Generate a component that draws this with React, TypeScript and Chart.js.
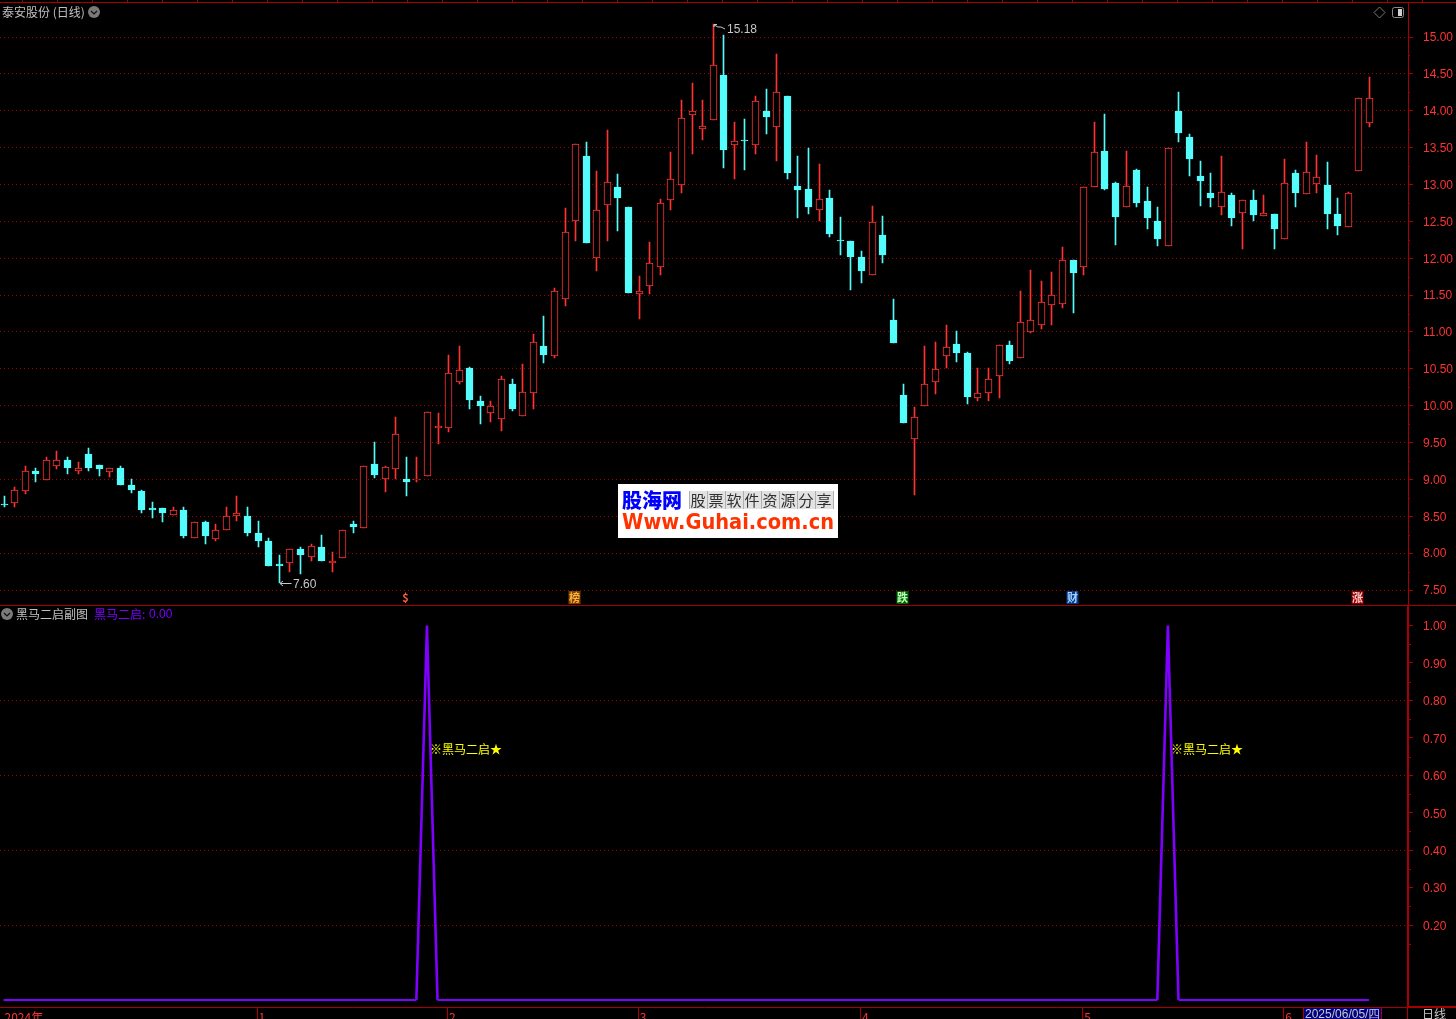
import React, { useEffect, useRef } from "react";
import { Chart, registerables } from "chart.js";

Chart.register(...registerables);

const opens = [
  8.66,8.68,8.84,9.11,8.99,9.18,9.27,9.12,9.35,9.19,9.10,9.15,8.92,8.84,8.61,8.61,8.52,8.59,8.21,8.42,
  8.19,8.31,8.50,8.51,8.28,8.17,7.85,7.87,8.05,7.95,8.09,7.86,7.94,8.39,8.34,9.21,9.00,9.14,9.00,9.00,
  9.05,9.70,9.70,10.32,10.51,10.06,9.90,9.82,10.29,9.86,10.17,10.81,10.68,11.45,12.50,13.38,12.00,12.72,12.96,12.69,
  11.51,11.63,11.88,12.79,12.99,13.94,13.75,13.87,14.48,13.54,13.61,13.54,14.00,13.78,14.20,12.98,12.94,12.66,12.81,12.25,
  12.23,12.01,11.77,12.31,11.16,10.14,9.55,10.00,10.32,10.68,10.83,10.71,10.11,10.17,10.40,10.82,10.64,11.00,11.10,11.36,
  11.38,11.98,11.88,12.96,13.45,13.02,12.69,13.19,12.77,12.50,12.17,13.99,13.64,13.11,12.88,12.69,12.86,12.61,12.79,12.57,
  12.60,12.26,13.15,12.87,13.00,12.99,12.60,12.42,13.18,13.84,
];
const closes = [
  8.65,8.85,9.11,9.08,9.27,9.27,9.15,9.15,9.15,9.14,9.15,8.93,8.86,8.58,8.58,8.54,8.59,8.23,8.42,8.23,
  8.32,8.51,8.54,8.27,8.16,7.83,7.83,8.05,7.97,8.10,7.90,7.90,8.32,8.35,9.18,9.06,9.17,9.61,8.96,9.00,
  9.91,9.72,10.45,10.48,10.08,9.99,10.00,10.36,9.95,10.18,10.87,10.69,11.55,12.35,13.55,12.20,12.66,13.03,12.81,11.53,
  11.56,11.94,12.75,13.07,13.90,14.00,13.79,14.62,13.47,13.59,13.59,14.13,13.91,14.25,13.15,12.93,12.70,12.80,12.33,12.23,
  12.01,11.82,12.49,12.05,10.85,9.76,9.84,10.30,10.50,10.80,10.71,10.12,10.17,10.36,10.82,10.60,11.14,11.16,11.40,11.50,
  11.97,11.80,12.97,13.44,12.94,12.56,12.98,12.75,12.55,12.26,13.50,13.70,13.34,13.05,12.82,12.90,12.55,12.79,12.58,12.61,
  12.40,13.02,12.88,13.17,13.10,12.60,12.44,12.88,14.17,14.17,
];
const highs = [
  8.77,8.90,9.18,9.15,9.30,9.38,9.31,9.23,9.42,9.20,9.15,9.18,9.00,8.86,8.70,8.61,8.63,8.63,8.42,8.43,
  8.39,8.63,8.78,8.62,8.43,8.21,7.98,8.05,8.09,8.13,8.24,8.01,8.32,8.43,9.18,9.51,9.18,9.84,9.30,9.30,
  9.91,9.90,10.69,10.81,10.52,10.13,10.06,10.40,10.36,10.56,10.97,11.21,11.59,12.68,13.55,13.57,13.18,13.74,13.14,12.69,
  11.76,12.22,12.80,13.44,14.14,14.38,14.14,15.18,15.03,13.85,13.89,14.20,14.29,14.77,14.20,13.38,13.49,13.28,12.92,12.56,
  12.24,12.10,12.71,12.57,11.45,10.29,9.98,10.81,10.86,11.09,11.01,10.73,10.51,10.51,10.82,10.88,11.55,11.84,11.69,11.81,
  12.15,11.98,12.97,13.85,13.95,13.04,13.45,13.21,12.97,12.70,13.50,14.25,13.68,13.32,13.16,13.39,12.89,12.79,12.92,12.86,
  12.60,13.34,13.19,13.57,13.40,13.30,12.81,12.90,14.17,14.46,
];
const lows = [
  8.63,8.63,8.80,8.96,8.99,9.14,9.07,9.08,9.11,9.05,9.03,8.92,8.81,8.54,8.48,8.42,8.52,8.20,8.21,8.13,
  8.16,8.31,8.44,8.23,8.08,7.82,7.60,7.75,7.72,7.89,7.90,7.74,7.94,8.28,8.34,9.02,8.83,9.00,8.77,8.96,
  9.05,9.48,9.64,10.29,9.95,9.75,9.78,9.66,9.93,9.86,9.95,10.58,10.64,11.35,12.23,12.20,11.82,12.23,12.37,11.53,
  11.17,11.51,11.77,12.65,12.88,13.42,13.61,13.87,13.22,13.07,13.19,13.42,13.68,13.32,13.07,12.54,12.60,12.50,12.29,12.05,
  11.57,11.66,11.77,11.93,10.85,9.76,8.79,10.00,10.16,10.51,10.59,10.02,10.06,10.06,10.10,10.56,10.64,10.98,11.04,11.09,
  11.32,11.26,11.77,12.96,12.93,12.18,12.69,12.70,12.39,12.16,12.17,13.57,13.11,12.71,12.70,12.59,12.44,12.12,12.50,12.57,
  12.13,12.26,12.69,12.87,12.89,12.40,12.31,12.42,13.18,13.78,
];
const signal = [
  0,0,0,0,0,0,0,0,0,0,0,0,0,0,0,0,0,0,0,0,
  0,0,0,0,0,0,0,0,0,0,0,0,0,0,0,0,0,0,0,0,
  1,0,0,0,0,0,0,0,0,0,0,0,0,0,0,0,0,0,0,0,
  0,0,0,0,0,0,0,0,0,0,0,0,0,0,0,0,0,0,0,0,
  0,0,0,0,0,0,0,0,0,0,0,0,0,0,0,0,0,0,0,0,
  0,0,0,0,0,0,0,0,0,0,1,0,0,0,0,0,0,0,0,0,
  0,0,0,0,0,0,0,0,0,0,
];
const priceTicks = [7.5,8,8.5,9,9.5,10,10.5,11,11.5,12,12.5,13,13.5,14,14.5,15];
const signalTicks = [0.2,0.3,0.4,0.5,0.6,0.7,0.8,0.9,1.0];
const signalGrid = [0.2,0.4,0.6,0.8];
const monthIndex = [0,24,42,60,81,102,121];
const monthLabels = ["2024年","1","2","3","4","5","6"];
const flagIndex = [38,54,85,101,128];
const flagTexts = ["$","榜","跌","财","涨"];
const highIndex = 67;
const lowIndex = 26;
const highValue = 15.18;
const lowValue = 7.6;
const signalText = "※黑马二启★";
const signalTextLevel = 0.67;
const stockTitle = "泰安股份 (日线)";
const subTitle = "黑马二启副图";
const subLegend = "黑马二启:";
const subValue = "0.00";
const dateText = "2025/06/05/四";
const periodText = "日线";

const RED = "#FF3232";
const CYAN = "#54FCFC";
const DARK = "#A80000";
const GRID = "#A00000";
const PURPLE = "#7F00FF";
const CJK = '"Noto Sans CJK SC", sans-serif';
const LATIN = '"Liberation Sans", sans-serif';
const STEP = 10.585;
const FIRST = 3.55;
const flagFill = ["#000000", "#7A4300", "#006400", "#003C8C", "#8C0000"];
const flagInk = ["#FF5A32", "#FFB040", "#B8FFB8", "#A8D0FF", "#FFC8C8"];

const isUp = (i: number) => closes[i] >= opens[i];

const zeroPadding = (s: any) => {
  s.paddingTop = 0;
  s.paddingBottom = 0;
  s.paddingLeft = 0;
  s.paddingRight = 0;
};

const chevronIcon = (ctx: CanvasRenderingContext2D, cx: number, cy: number) => {
  ctx.fillStyle = "#7A7A7A";
  ctx.beginPath();
  ctx.arc(cx, cy, 6, 0, Math.PI * 2);
  ctx.fill();
  ctx.strokeStyle = "#101010";
  ctx.lineWidth = 1.2;
  ctx.beginPath();
  ctx.moveTo(cx - 3, cy - 1);
  ctx.lineTo(cx, cy + 2);
  ctx.lineTo(cx + 3, cy - 1);
  ctx.stroke();
};

const snapPlugin = {
  id: "snap",
  beforeDatasetsDraw(chart: any) {
    chart.data.datasets.forEach((ds: any, idx: number) => {
      if (ds.type !== "bar") return;
      chart.getDatasetMeta(idx).data.forEach((el: any) => {
        el.x = Math.round(el.x) + 0.5;
        el.y = Math.round(el.y);
        el.base = Math.round(el.base);
        if (el.base - el.y < 1) el.base = el.y + 1;
      });
    });
  },
};

const decorPlugin = {
  id: "decor",
  afterDraw(chart: any) {
    const { ctx, scales } = chart;
    const xs = scales.x;
    const ys = scales.y;
    const y2 = scales.y2;
    const px = (i: number) => Math.round(xs.getPixelForValue(i));
    ctx.save();
    ctx.textBaseline = "middle";
    ctx.textAlign = "left";

    // frame
    ctx.fillStyle = DARK;
    ctx.fillRect(0, 2, 1456, 1);
    for (let t = 22; t < 1456; t += 35) ctx.fillRect(t, 0, 1, 2);
    ctx.fillRect(0, 605, 1456, 1);
    ctx.fillRect(1407, 1006, 49, 2);
    ctx.fillRect(1407, 1007, 1, 12);
    monthIndex.slice(1).forEach((m) => ctx.fillRect(px(m) - 1, 1007, 1, 12));

    // minor ticks on the price axis
    priceTicks.forEach((v) => {
      const yy = Math.round(ys.getPixelForValue(v + 0.25));
      if (v < 15) ctx.fillRect(1408, yy, 2, 1);
    });
    signalTicks.forEach((v) => {
      const yy = Math.round(y2.getPixelForValue(v - 0.05));
      ctx.fillRect(1409, yy, 2, 1);
    });

    // titles
    ctx.font = `12px ${CJK}`;
    ctx.fillStyle = "#C0C0C0";
    ctx.fillText(stockTitle, 2, 12);
    chevronIcon(ctx, 94, 12);
    chevronIcon(ctx, 7, 614);
    ctx.fillStyle = "#C0C0C0";
    ctx.fillText(subTitle, 16, 614);
    ctx.fillStyle = PURPLE;
    ctx.fillText(subLegend, 94, 614);
    ctx.font = `12px ${LATIN}`;
    ctx.fillText(subValue, 149, 615);

    // icons top right
    ctx.strokeStyle = "#7A7A7A";
    ctx.lineWidth = 1;
    ctx.beginPath();
    ctx.moveTo(1379.5, 7);
    ctx.lineTo(1385, 12.5);
    ctx.lineTo(1379.5, 18);
    ctx.lineTo(1374, 12.5);
    ctx.closePath();
    ctx.stroke();
    ctx.strokeStyle = "#8A8A8A";
    ctx.beginPath();
    ctx.roundRect(1392.5, 7.5, 11, 10, 2);
    ctx.stroke();
    ctx.fillStyle = "#D0D0D0";
    ctx.fillRect(1398, 9, 4, 7);

    // extreme markers
    ctx.strokeStyle = "#C8C8C8";
    ctx.fillStyle = "#C8C8C8";
    ctx.font = `12px ${LATIN}`;
    const lx = px(lowIndex);
    const ly = Math.round(ys.getPixelForValue(lowValue));
    ctx.beginPath();
    ctx.moveTo(lx + 12.5, ly + 0.5);
    ctx.lineTo(lx + 1, ly + 0.5);
    ctx.moveTo(lx + 4, ly - 2);
    ctx.lineTo(lx + 1, ly + 0.5);
    ctx.lineTo(lx + 4, ly + 3);
    ctx.stroke();
    ctx.fillText(lowValue.toFixed(2), lx + 14, ly + 2);
    const hx = px(highIndex);
    const hy = Math.round(ys.getPixelForValue(highValue));
    ctx.beginPath();
    ctx.moveTo(hx + 4, hy + 0.5);
    ctx.lineTo(hx + 1, hy + 0.5);
    ctx.lineTo(hx + 1, hy + 3);
    ctx.moveTo(hx + 1, hy + 1);
    ctx.lineTo(hx + 5, hy + 3);
    ctx.lineTo(hx + 8, hy + 3);
    ctx.lineTo(hx + 12, hy + 5);
    ctx.stroke();
    ctx.fillText(highValue.toFixed(2), hx + 14, hy + 5.5);

    // event flags
    ctx.textAlign = "center";
    flagIndex.forEach((idx, k) => {
      const fx = px(idx) - 0.5;
      ctx.fillStyle = flagFill[k];
      ctx.fillRect(fx - 6, 591, 12, 13);
      ctx.fillStyle = flagInk[k];
      ctx.font = `bold 11px ${CJK}`;
      ctx.fillText(flagTexts[k], fx, 598);
    });
    ctx.textAlign = "left";

    // signal labels
    ctx.fillStyle = "#FFFF00";
    ctx.font = `12px ${CJK}`;
    signal.forEach((v, i) => {
      if (v > 0) ctx.fillText(signalText, px(i) + 3, y2.getPixelForValue(signalTextLevel));
    });

    // date cell and period cell
    ctx.fillStyle = "#000080";
    ctx.fillRect(1304, 1008, 77, 11);
    ctx.fillStyle = DARK;
    ctx.fillRect(1303, 1007, 1, 12);
    ctx.fillRect(1381, 1007, 1, 12);
    ctx.fillStyle = "#C8C8C8";
    ctx.font = `12px ${LATIN}`;
    ctx.fillText(dateText, 1305, 1015);
    ctx.font = `12px ${CJK}`;
    ctx.fillText(periodText, 1422, 1014);

    // watermark
    ctx.fillStyle = "#FFFFFF";
    ctx.fillRect(618, 484, 220, 54);
    ctx.fillStyle = "#0000FF";
    ctx.font = `900 20px ${CJK}`;
    ctx.fillText("股海网", 622, 500);
    ctx.fillStyle = "#E2E2E2";
    ctx.fillRect(689, 491, 144, 18);
    ctx.fillStyle = "#B0B0B0";
    for (let k = 0; k <= 8; k++) ctx.fillRect(689 + k * 18, 491, 1, 18);
    ctx.fillStyle = "#303030";
    ctx.font = `15px "Noto Sans CJK JP", ${CJK}`;
    Array.from("股票软件资源分享").forEach((c, k) => ctx.fillText(c, 690.5 + k * 18, 500));
    ctx.fillStyle = "#FF3300";
    ctx.font = `bold 21px "DejaVu Sans", ${LATIN}`;
    ctx.fillText("Www.Guhai.com.cn", 622, 524, 212);
    ctx.restore();
  },
};

export default function App() {
  const ref = useRef<HTMLCanvasElement | null>(null);
  useEffect(() => {
    if (!ref.current) return;
    document.body.style.margin = "0";
    document.body.style.background = "#000";
    const index = opens.map((_, i) => i);
    const chart = new Chart(ref.current, {
      data: {
        datasets: [
          {
            type: "bar",
            label: "body",
            order: 1,
            yAxisID: "y",
            data: index.map((i) => ({ x: i, y: [opens[i], closes[i]] })),
            barThickness: 7,
            grouped: false,
            borderSkipped: false,
            borderWidth: 1,
            borderColor: index.map((i) => (isUp(i) ? RED : CYAN)),
            backgroundColor: index.map((i) => (isUp(i) ? "#000000" : CYAN)),
          },
          {
            type: "bar",
            label: "wick",
            order: 2,
            yAxisID: "y",
            data: index.map((i) => ({ x: i, y: [lows[i], highs[i]] })),
            barThickness: 1,
            grouped: false,
            borderSkipped: false,
            borderWidth: 0,
            backgroundColor: index.map((i) => (isUp(i) ? RED : CYAN)),
          },
          {
            type: "line",
            label: "黑马二启",
            order: 0,
            yAxisID: "y2",
            data: index.map((i) => ({ x: i, y: signal[i] })),
            borderColor: PURPLE,
            borderWidth: 2,
            segment: {
              borderWidth: (c: any) => (c.p0.parsed.y !== c.p1.parsed.y ? 2.6 : 2),
            },
            pointRadius: 0,
            tension: 0,
            clip: false,
          },
        ],
      } as any,
      options: {
        responsive: false,
        animation: false,
        devicePixelRatio: 1,
        layout: { padding: { top: 2, left: 0, right: 0, bottom: 0 } },
        plugins: { legend: { display: false }, tooltip: { enabled: false }, title: { display: false } },
        scales: {
          x: {
            type: "linear",
            position: "bottom",
            offset: false,
            min: -FIRST / STEP,
            max: (1408 - FIRST) / STEP,
            afterBuildTicks: (s: any) => {
              s.ticks = monthIndex.map((value) => ({ value }));
            },
            afterFit: (s: any) => {
              s.height = 12;
              zeroPadding(s);
            },
            border: { display: true, color: DARK, width: 1 },
            grid: { display: false, drawOnChartArea: false, drawTicks: false, offset: false },
            ticks: {
              autoSkip: false,
              maxRotation: 0,
              align: "start",
              padding: 3,
              labelOffset: 1,
              color: RED,
              font: { family: CJK, size: 12 },
              callback: (v: any) => monthLabels[monthIndex.indexOf(v)] ?? "",
            },
          },
          y: {
            type: "linear",
            position: "right",
            stack: "panes",
            stackWeight: 603.5,
            min: 7.29,
            max: 15.475,
            afterBuildTicks: (s: any) => {
              s.ticks = priceTicks.map((value) => ({ value }));
            },
            afterFit: (s: any) => {
              s.width = 48;
              zeroPadding(s);
            },
            border: { display: true, color: DARK, width: 1, dash: [1, 3] },
            grid: {
              color: GRID,
              tickColor: DARK,
              tickLength: 5,
              tickBorderDash: [],
              lineWidth: 1,
              drawOnChartArea: true,
            },
            ticks: {
              autoSkip: false,
              padding: 10,
              labelOffset: 1,
              color: RED,
              font: { family: LATIN, size: 12 },
              callback: (v: any) => Number(v).toFixed(2),
            },
          },
          y2: {
            type: "linear",
            position: "right",
            stack: "panes",
            stackWeight: 401.5,
            min: -0.0187,
            max: 1.0535,
            afterBuildTicks: (s: any) => {
              s.ticks = signalTicks.map((value) => ({ value }));
            },
            afterFit: (s: any) => {
              s.width = 48;
              zeroPadding(s);
            },
            border: { display: true, color: DARK, width: 2, dash: [1, 3] },
            grid: {
              color: (c: any) => (signalGrid.some((g) => Math.abs(g - c.tick?.value) < 1e-6) ? GRID : "rgba(0,0,0,0)"),
              tickColor: DARK,
              tickLength: 5,
              tickBorderDash: [],
              lineWidth: 1,
            },
            ticks: {
              autoSkip: false,
              padding: 10,
              labelOffset: 1.5,
              color: RED,
              font: { family: LATIN, size: 12 },
              callback: (v: any) => Number(v).toFixed(2),
            },
          },
        },
      } as any,
      plugins: [snapPlugin, decorPlugin],
    });
    return () => chart.destroy();
  }, []);
  return (
    <div style={{ position: "absolute", left: 0, top: 0, width: 1456, height: 1019, background: "#000", overflow: "hidden" }}>
      <canvas ref={ref} width={1456} height={1019} style={{ display: "block", background: "#000" }} />
    </div>
  );
}
